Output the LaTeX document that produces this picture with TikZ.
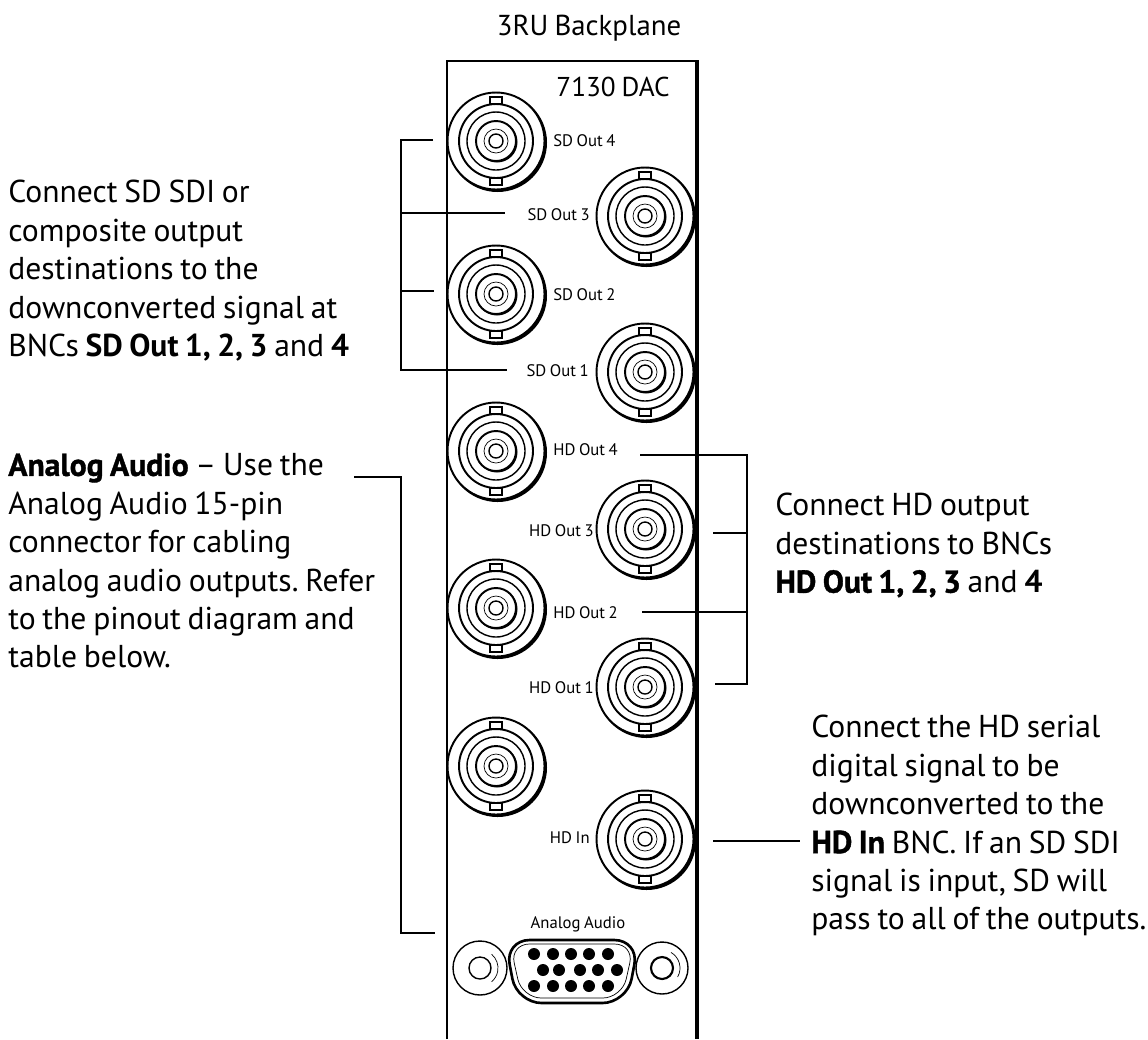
\documentclass[tikz,border=0pt]{standalone}
\usepackage{fontspec}
\setmainfont[WordSpace=0.8]{PT Sans}
\newfontfamily\heavyfont[FakeBold=1.2,WordSpace=0.8]{PT Sans Bold}
\usetikzlibrary{positioning}
\newcommand{\bncunit}[2]{%
  \fill (#1+1.5,#2+1.5) circle (49.5);
  \draw[bncouter, fill=white] (#1,#2) circle (48.5);
  \draw[bncline, fill=white] (#1-6,#2-44) rectangle (#1+6,#2-37);
  \draw[bncline, fill=white] (#1-6,#2+37) rectangle (#1+6,#2+44);
  \draw[bncouter] (#1,#2) circle (37);
  \draw[bncline] (#1,#2) circle (29);
  \fill (#1+1,#2+1) circle (20.5);
  \draw[bncouter, fill=white] (#1,#2) circle (20);
  \draw[bncthin] (#1,#2) circle (12);
  \draw[bncline] (#1,#2) circle (7);
}
\frenchspacing
\begin{document}
\begin{tikzpicture}[
                x=0.02cm, y=-0.02cm,
                font=\fontsize{18}{21.85}\selectfont,
                bncouter/.style={line width=1.1pt},
                bncline/.style={line width=0.8pt},
                bncthin/.style={line width=0.4pt},
                leader/.style={line width=1.15pt},
                sidetext/.style={anchor=north west, align=left, inner sep=0pt},
                jacklabel/.style={font=\fontsize{9.5}{12}\selectfont, inner sep=0pt}
                ]
                \useasboundingbox (0,0) rectangle (1148,1039);

                \node[font=\fontsize{16.4}{18}\selectfont] (title) at (589,28) {3RU Backplane};
                \draw[line width=1.3pt] (447,1039) -- (447,61) -- (697,61);
                \draw[line width=1.9pt] (697,60) -- (697,1039);
                \node[font=\fontsize{15.5}{20}\selectfont] (model) at (613,87) {7130 DAC};

                % left column
                \bncunit{496}{141}
                \bncunit{496}{294}
                \bncunit{496}{451}
                \bncunit{496}{608}
                \bncunit{496}{766}
                % right column
                \bncunit{645}{216}
                \bncunit{645}{372}
                \bncunit{645}{529}
                \bncunit{645}{687}
                \bncunit{645}{839}

                \node[jacklabel, anchor=west] (sd4) at (553,141) {SD Out 4};
                \node[jacklabel, anchor=east] (sd3) at (590,215) {SD Out 3};
                \node[jacklabel, anchor=west] (sd2) at (553,295) {SD Out 2};
                \node[jacklabel, anchor=east] (sd1) at (589,371) {SD Out 1};
                \node[jacklabel, anchor=west] (hd4) at (553,450) {HD Out 4};
                \node[jacklabel, anchor=east] (hd3) at (594,531) {HD Out 3};
                \node[jacklabel, anchor=west] (hd2) at (553,613) {HD Out 2};
                \node[jacklabel, anchor=east] (hd1) at (594,688) {HD Out 1};
                \node[jacklabel, anchor=east] (hdin) at (590,838) {HD In};
                \node[jacklabel] (audio) at (578,924) {Analog Audio};

                % 15-pin connector
                \draw[line width=1.5pt, rounded corners=14] (505,940) -- (639,940) -- (627,1003) -- (517,1003) -- cycle;
                \draw[bncthin, rounded corners=11] (510,944) -- (634,944) -- (622,998) -- (522,998) -- cycle;
                \foreach \px in {534,553,571,589,608} {
                  \fill (\px,954) circle (6);
                  \fill (\px,986) circle (6);
                }
                \foreach \px in {543,559,580,598,617} {
                  \fill (\px,970) circle (6);
                }
                \draw[bncline] (480,968) circle (27);
                \draw[bncline] (480,968) circle (11);
                \draw[bncthin] (480,968) ++(-50:18) arc (-50:50:18);
                \draw[bncline] (662,968) circle (26);
                \draw[line width=1.2pt] (662,968) circle (11);
                \draw[bncthin] (662,968) ++(-60:18) arc (-60:30:18);

                \node[sidetext] (sdnote) at (8,180) {Connect SD SDI or\\composite output\\destinations to the\\downconverted signal at\\BNCs \textbf{SD Out 1, 2, 3} and \textbf{4}};
                \node[sidetext] (audionote) at (8,453) {{\heavyfont Analog Audio} -- Use the\\Analog Audio 15-pin\\connector for cabling\\analog audio outputs. Refer\\to the pinout diagram and\\table below.};
                \node[sidetext] (hdnote) at (775,493) {Connect HD output\\destinations to BNCs\\{\heavyfont HD Out 1, 2, 3} and \textbf{4}};
                \node[sidetext] (innote) at (811,715) {Connect the HD serial\\digital signal to be\\downconverted to the\\{\heavyfont HD In} BNC. If an SD SDI\\signal is input, SD will\\pass to all of the outputs.};

                \coordinate (sdtop) at (433,140);
                \coordinate (sdknee) at (401,140);
                \coordinate (sdjoin3) at (401,213);
                \coordinate (sdend3) at (505,213);
                \coordinate (sdjoin2) at (401,291);
                \coordinate (sdend2) at (434,291);
                \coordinate (sdfoot) at (401,370);
                \coordinate (sdend1) at (507,370);
                \coordinate (audiotop) at (354,477);
                \coordinate (audioknee) at (401,477);
                \coordinate (audiofoot) at (401,933);
                \coordinate (audioend) at (435,933);
                \coordinate (hdtop) at (640,455);
                \coordinate (hdknee) at (747,455);
                \coordinate (hdjoin3) at (747,533);
                \coordinate (hdend3) at (713,533);
                \coordinate (hdjoin2) at (747,612);
                \coordinate (hdend2) at (642,612);
                \coordinate (hdfoot) at (747,684);
                \coordinate (hdend1) at (715,684);
                \coordinate (infrom) at (713,841);
                \coordinate (into) at (800,841);

                \draw[leader] (sdtop) -- (sdknee) -- (sdfoot) -- (sdend1);
                \draw[leader] (sdjoin3) -- (sdend3);
                \draw[leader] (sdjoin2) -- (sdend2);
                \draw[leader] (audiotop) -- (audioknee) -- (audiofoot) -- (audioend);
                \draw[leader] (hdtop) -- (hdknee) -- (hdfoot) -- (hdend1);
                \draw[leader] (hdjoin3) -- (hdend3);
                \draw[leader] (hdjoin2) -- (hdend2);
                \draw[leader] (infrom) -- (into);
            \end{tikzpicture}
\end{document}
